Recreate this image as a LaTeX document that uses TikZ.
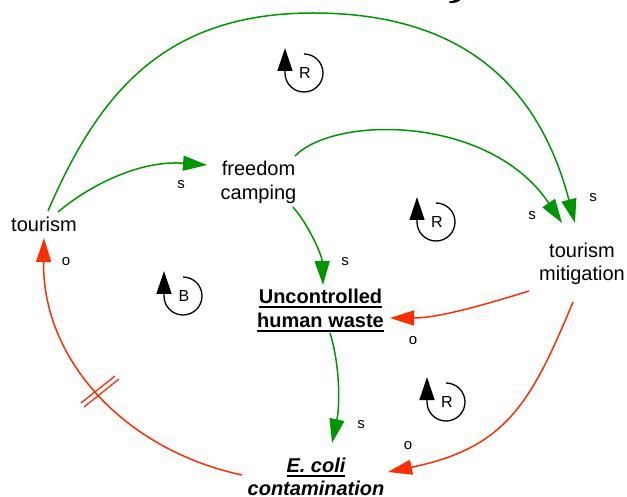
\documentclass[tikz,border=0pt]{standalone}
\usepackage{fontspec}
\setmainfont{Liberation Sans}
\usetikzlibrary{arrows.meta}

\definecolor{linkgreen}{RGB}{0,150,0}
\definecolor{linkred}{RGB}{255,45,0}

% word with a heavy rule underneath
\newcommand\ulword[1]{\setbox0\hbox{#1}\rlap{\rule[-5pt]{\wd0}{1.8pt}}\box0}

\tikzset{
  var/.style={inner sep=0pt, anchor=base, align=center,
              font=\fontsize{20}{24}\selectfont},
  keyvar/.style={var, font=\bfseries\fontsize{20}{24}\selectfont},
  pol/.style={inner sep=0pt, font=\fontsize{15}{18}\selectfont},
  head/.style={-{Triangle[length=24pt,width=15pt]}},
  plink/.style={draw=linkgreen, line width=1.5pt, head},
  olink/.style={draw=linkred, line width=1.5pt, head},
  delaymark/.style={draw=linkred, line width=1.3pt},
  loopsign/.pic={
    \draw[line width=1.3pt, -{Triangle[length=23pt,width=15pt]}]
      (0,-19) arc[start angle=-90, end angle=180, radius=19] -- ++(0,-25);
    \node[pol, font=\fontsize{16}{18}\selectfont] (-lbl) at (1,0) {#1};
  }
}

\begin{document}
\begin{tikzpicture}[x=1pt, y=-1pt]
  \useasboundingbox (0,0) rectangle (627,497);

  % tail of the heading letter at the top edge
  \fill (449,2.6) .. controls (453,4) and (458,2.2) .. (460.5,0)
        -- (454.5,0) .. controls (453,1.2) and (451,1.6) .. (449,1.3) -- cycle;

  % variables (multi-line nodes sit on the baseline of their last line)
  \node[var] (tourism) at (44,232) {tourism};
  \node[var] (freedom) at (258.5,200) {freedom\\camping};
  \node[var, font=\fontsize{20}{22.5}\selectfont] (mitig) at (582,280.5) {tourism\\mitigation};
  \node[keyvar] (waste) at (320.5,327) {\ulword{Uncontrolled}\\\ulword{human waste}};
  \node[keyvar, font=\bfseries\itshape\fontsize{20}{23.5}\selectfont] (ecoli) at (316,495.5)
       {\ulword{E. coli}\\contamination};

  % connector end points
  \coordinate (c1a) at (58,212);   \coordinate (c1b) at (207,165);
  \coordinate (c2a) at (48,211);   \coordinate (c2b) at (575,223);
  \coordinate (c3a) at (295,156);  \coordinate (c3b) at (562,223);
  \coordinate (c4a) at (293,207);  \coordinate (c4b) at (323,285);
  \coordinate (c5a) at (330,333);  \coordinate (c5b) at (332,443);
  \coordinate (c6a) at (529,291);  \coordinate (c6b) at (390,318);
  \coordinate (c7a) at (573,302);  \coordinate (c7b) at (388,472);
  \coordinate (c8a) at (242,475);  \coordinate (c8b) at (44,238);

  % same-direction links
  \draw[plink] (c1a) .. controls (90,185) and (140,160) .. (c1b);
  \draw[plink] (c2a) .. controls (98,95) and (163,13) .. (313,13)
                     .. controls (463,13) and (539,86) .. (c2b);
  \draw[plink] (c3a) .. controls (335,115) and (490,115) .. (c3b);
  \draw[plink] (c4a) .. controls (308,224) and (322,255) .. (c4b);
  \draw[plink] (c5a) .. controls (340,365) and (340,405) .. (c5b);

  % opposite-direction links
  \draw[olink] (c6a) .. controls (490,303) and (440,318) .. (c6b);
  \draw[olink] (c7a) .. controls (531,403) and (506,448) .. (c7b);
  \draw[olink] (c8a) .. controls (125,450) and (42,360) .. (c8b);

  % delay on the contamination -> tourism link
  \draw[delaymark] (81,403) -- (115,376);
  \draw[delaymark] (84,407) -- (119,379);

  % polarities
  \node[pol] (p1) at (181,185) {s};
  \node[pol] (p2) at (593,198) {s};
  \node[pol] (p3) at (532,216) {s};
  \node[pol] (p4) at (345,262) {s};
  \node[pol] (p5) at (361,425) {s};
  \node[pol] (p6) at (413,341) {o};
  \node[pol] (p7) at (408,446) {o};
  \node[pol] (p8) at (66,262) {o};

  % loop identifiers
  \pic (loopA) at (304,73)  {loopsign=R};
  \pic (loopB) at (436,222) {loopsign=R};
  \pic (loopC) at (183,296) {loopsign=B};
  \pic (loopD) at (446,402) {loopsign=R};
\end{tikzpicture}
\end{document}
